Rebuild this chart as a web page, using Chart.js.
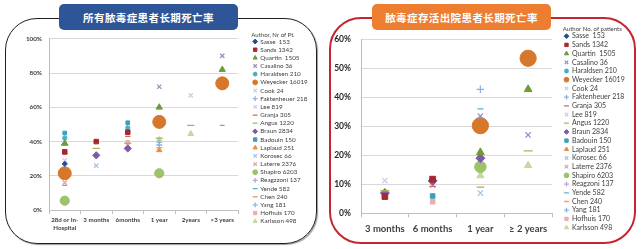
<!DOCTYPE html>
<html>
<head>
<meta charset="utf-8">
<script src="https://cdn.jsdelivr.net/npm/chart.js@4.4.1/dist/chart.umd.min.js"></script>
<style>
  body { margin: 0; width: 641px; height: 249px; background: #fff; position: relative; overflow: hidden; }
  .panel { position: absolute; box-sizing: border-box; border-radius: 32px; }
  #panelL { left: 5px; top: 18px; width: 312px; height: 226px; border: 1.5px solid #1e1e1e; box-shadow: 1px 1px 1px #999; }
  #panelR { left: 329px; top: 17px; width: 307px; height: 227px; border: 2px solid #c3262e; }
  .title { position: absolute; top: 4px; height: 26px; width: 179px; border-radius: 5px; color: #fff;
           font: bold 10.5px "Noto Sans CJK SC"; letter-spacing: 0.4px;
           display: flex; align-items: center; justify-content: center; }
  #titleL { left: 59px; background: #2e5597; }
  #titleR { left: 372px; background: #ed7d31; }
  canvas { position: absolute; }
  #chartL { left: 8px; top: 28px; }
  #chartR { left: 331px; top: 24px; }
</style>
</head>
<body>
<div class="panel" id="panelL"></div>
<div class="panel" id="panelR"></div>
<div class="title" id="titleL">所有脓毒症患者长期死亡率</div>
<div class="title" id="titleR">脓毒症存活出院患者长期死亡率</div>
<canvas id="chartL" width="305" height="214"></canvas>
<canvas id="chartR" width="303" height="220"></canvas>

<script>
// ---- data (mortality in %) ----
const leftCategories = [['28d or In-', 'Hospital'], '3 months', '6months', '1 year', '2years', '>3 years'];
const leftYTicks = [0, 20, 40, 60, 80, 100];
const leftAuthors = [
    'Sasse  153', 'Sands 1342', 'Quartin  1505', 'Casalino 36', 'Haraldsen 210', 'Weyecker 16019',
    'Cook 24', 'Faktenheuer 218', 'Lee 819', 'Granja 305', 'Angus 1220', 'Braun 2834',
    'Badouin 150', 'Laplaud 251', 'Korosec 66', 'Laterre 2376', 'Shapiro 6203', 'Reagzzoni 137',
    'Yende 582', 'Chen 240', 'Yang 181', 'Hofhuis 170', 'Karlsson 498'
];
const leftMortality = [
    [27, null, null, null, null, null],     // Sasse
    [34, 40, 45.5, null, null, null],       // Sands
    [39, null, null, 60, null, 82],         // Quartin
    [null, null, null, 72, null, 90],       // Casalino
    [42, null, 48, null, null, null],       // Haraldsen
    [21.5, null, null, 51.5, null, 74],     // Weyecker
    [null, null, null, null, 67, null],     // Cook
    [null, null, null, 38, null, null],     // Faktenheuer
    [29, null, null, null, null, null],     // Lee
    [33, null, 43, null, null, null],       // Granja
    [38, 36, 39, 42, 49.5, null],           // Angus
    [null, 32, 36, null, null, null],       // Braun
    [45, null, 51, null, null, null],       // Badouin
    [null, null, null, 35, null, null],     // Laplaud
    [null, 26, null, null, null, null],     // Korosec
    [16, null, null, null, null, null],     // Laterre
    [5.5, null, null, 21.5, null, null],    // Shapiro
    [null, null, null, 53, null, null],     // Reagzzoni
    [14.5, null, null, null, null, 49.5],   // Yende
    [null, null, null, 36.5, null, null],   // Chen
    [null, null, null, 39.5, null, null],   // Yang
    [null, null, 39.5, null, null, null],   // Hofhuis
    [null, null, null, 41, 44.5, null]      // Karlsson
];

const rightCategories = ['3 months', '6 months', '1 year', '\u2265 2 years'];
const rightYTicks = [0, 10, 20, 30, 40, 50, 60];
const rightAuthors = [
    'Sasse  153', 'Sands 1342', 'Quartin  1505', 'Casalino 36', 'Haraldsen 210', 'Weyecker 16019',
    'Cook 24', 'Faktenheuer 218', 'Granja 305', 'Lee 819', 'Angus 1220', 'Braun 2834',
    'Badouin 150', 'Laplaud 251', 'Korosec 66', 'Laterre 2376', 'Shapiro 6203', 'Reagzoni 137',
    'Yende 582', 'Chen 240', 'Yang 181', 'Hofhuis 170', 'Karlsson 498'
];
const rightMortality = [
    [null, null, null, null],   // Sasse
    [5.8, 11.8, null, null],    // Sands
    [null, null, 21, 42.7],     // Quartin
    [null, null, 33.5, 27],     // Casalino
    [null, null, null, null],   // Haraldsen
    [null, null, 30.2, 53.4],   // Weyecker
    [null, null, null, null],   // Cook
    [null, null, 42.7, null],   // Faktenheuer
    [null, 9.3, null, null],    // Granja
    [11.3, null, null, null],   // Lee
    [7.8, null, null, 21.5],    // Angus
    [7, 11.2, 19, null],        // Braun
    [null, 6, null, null],      // Badouin
    [null, null, null, null],   // Laplaud
    [null, null, 7, null],      // Korosec
    [null, 9.6, null, null],    // Laterre
    [null, null, 16, null],     // Shapiro
    [null, null, null, null],   // Reagzoni
    [null, null, 36, null],     // Yende
    [null, null, 9, null],      // Chen
    [null, null, null, null],   // Yang
    [null, 4, null, null],      // Hofhuis
    [null, null, 13, 16.5]      // Karlsson
];

// marker look per author: [pointStyle, colour, radius]
const markers = {
    Sasse: ['rectRot', '#1f4e99', 2.6],
    Sands: ['rect', '#a5282c', 3.2],
    Quartin: ['triangle', '#6e9a37', 3.6],
    Casalino: ['crossRot', '#9a8fc8', 3],
    Haraldsen: ['star', '#4bacc6', 2.8],
    Weyecker: ['circle', '#d6782c', 6.5],
    Cook: ['crossRot', '#b7d7ee', 3],
    Faktenheuer: ['cross', '#8fb0de', 3],
    Lee: ['crossRot', '#d8cce6', 3],
    Granja: ['line', '#e0605c', 2.6],
    Angus: ['line', '#9bbb59', 3.6],
    Braun: ['rectRot', '#7e5aa8', 3.6],
    Badouin: ['rect', '#3aa0b8', 2.6],
    Laplaud: ['triangle', '#f08a3c', 3],
    Korosec: ['crossRot', '#a8c4e8', 3],
    Laterre: ['crossRot', '#e8a0a0', 3],
    Shapiro: ['circle', '#9cc26a', 4.6],
    Reagzzoni: ['cross', '#b8a8d8', 3],
    Reagzoni: ['cross', '#b8a8d8', 3],
    Yende: ['line', '#5bb0d0', 2.4],
    Chen: ['line', '#f5a060', 3],
    Yang: ['cross', '#8eb4e3', 2.6],
    Hofhuis: ['rect', '#e6b0b0', 2.6],
    Karlsson: ['triangle', '#c4d8a0', 3.4]
};

const FONT = 'Lato, "Open Sans", sans-serif';

function buildDatasets(authors, values, sizeFactor) {
    return authors.map((name, i) => {
        const m = markers[name.split(' ')[0]];
        const stroked = ['cross', 'crossRot', 'line', 'star'].includes(m[0]);
        return {
            label: name,
            data: values[i],
            showLine: false,
            pointStyle: m[0],
            pointRadius: m[2] * sizeFactor,
            pointHoverRadius: m[2] * sizeFactor,
            backgroundColor: m[1],
            borderColor: m[1],
            borderWidth: stroked ? 1.3 : 1
        };
    });
}

// sizes the legend box and nudges it away from the plot
const legendNudge = {
    id: 'legendNudge',
    beforeLayout(chart, args, opts) {
        const lg = chart.legend;
        if (!lg || lg._nudged) return;
        const fit = lg.fit.bind(lg);
        lg.fit = () => { fit(); lg.width = opts.width; };
        lg._nudged = true;
    },
    afterLayout(chart, args, opts) {
        chart.legend.left += opts.dx;
        chart.legend.right += opts.dx;
        chart.legend.top += opts.dy;
    }
};

function makeChart(id, cfg) {
    return new Chart(document.getElementById(id), {
        type: 'line',
        data: { labels: cfg.labels, datasets: buildDatasets(cfg.authors, cfg.values, cfg.sizeFactor) },
        plugins: [legendNudge],
        options: {
            responsive: false,
            animation: false,
            layout: { padding: { top: cfg.padTop, bottom: cfg.padBottom, left: 0, right: 0 } },
            scales: {
                x: {
                    offset: true,
                    grid: { offset: true, drawOnChartArea: false, drawTicks: true, tickLength: 4, color: '#bfbfbf' },
                    border: { color: '#bfbfbf' },
                    ticks: {
                        autoSkip: false, maxRotation: 0, padding: cfg.xPad, color: '#404040',
                        font: { family: FONT, size: cfg.xFont, weight: 'bold', lineHeight: 1.2 }
                    }
                },
                y: {
                    min: cfg.yTicks[0],
                    max: cfg.yTicks[cfg.yTicks.length - 1],
                    afterBuildTicks: s => { s.ticks = cfg.yTicks.map(v => ({ value: v })); },
                    afterFit: s => { s.width = cfg.yWidth; },
                    grid: { color: '#d9d9d9', drawTicks: false },
                    border: { color: '#bfbfbf' },
                    ticks: {
                        padding: cfg.yPad, color: cfg.yColor,
                        font: { family: FONT, size: cfg.yFont, weight: 'bold' },
                        callback: v => v + '%'
                    }
                }
            },
            plugins: {
                tooltip: { enabled: false },
                legend: {
                    position: 'right',
                    align: 'start',
                    title: {
                        display: true, text: cfg.legendTitle, position: 'start', color: '#404040',
                        font: { family: FONT, size: 6 }, padding: { top: 0, bottom: cfg.titleGap }
                    },
                    labels: {
                        usePointStyle: true, boxWidth: 4, boxHeight: 3.4, padding: cfg.legendPad,
                        color: '#404040', font: { family: FONT, size: cfg.legendFont }
                    }
                },
                legendNudge: { width: cfg.legendWidth, dx: cfg.dx, dy: cfg.dy }
            }
        }
    });
}

makeChart('chartL', {
    labels: leftCategories, authors: leftAuthors, values: leftMortality, yTicks: leftYTicks,
    sizeFactor: 1, padTop: 10, padBottom: 8, xPad: 2.5, xFont: 6.2, yFont: 6.3, yPad: 7, yWidth: 41,
    yColor: '#404040', legendTitle: 'Author, Nr of Pt.', legendFont: 6.3, legendPad: 1.87,
    titleGap: -3, legendWidth: 75, dx: 13.3, dy: -5.7
});

makeChart('chartR', {
    labels: rightCategories, authors: rightAuthors, values: rightMortality, yTicks: rightYTicks,
    sizeFactor: 1.25, padTop: 13, padBottom: 4, xPad: 5.6, xFont: 9.5, yFont: 8.5, yPad: 10, yWidth: 30,
    yColor: '#262626', legendTitle: 'Author No. of patients', legendFont: 7, legendPad: 1.7,
    titleGap: -2.2, legendWidth: 82, dx: 10.8, dy: -11
});
</script>
</body>
</html>
